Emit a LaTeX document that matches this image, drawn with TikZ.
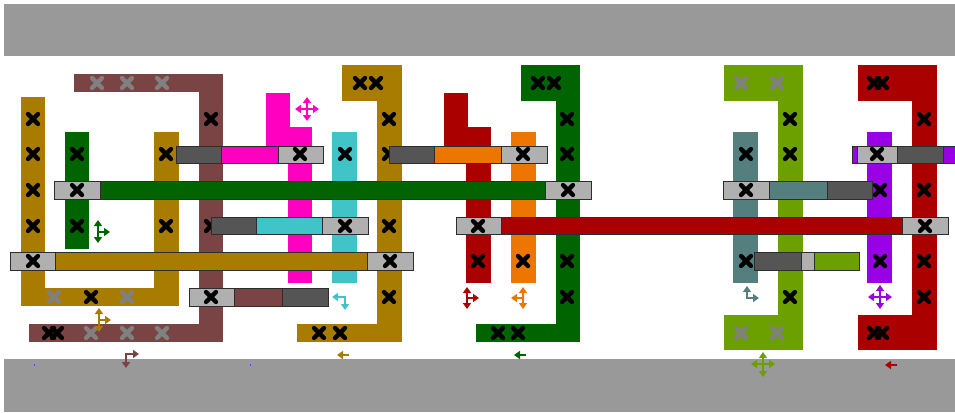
\documentclass[tikz,border=0pt]{standalone}
\usetikzlibrary{arrows.meta}
\definecolor{maroonc}{RGB}{123,68,68}
\definecolor{goldc}{RGB}{168,124,0}
\definecolor{dgreenc}{RGB}{0,100,0}
\definecolor{pinkc}{RGB}{255,0,192}
\definecolor{cyanc}{RGB}{64,196,200}
\definecolor{dredc}{RGB}{170,0,0}
\definecolor{orangec}{RGB}{236,118,0}
\definecolor{ygreenc}{RGB}{108,160,0}
\definecolor{tealc}{RGB}{85,127,127}
\definecolor{purplec}{RGB}{153,0,230}
\definecolor{lgrayc}{RGB}{176,176,176}
\definecolor{dgrayc}{RGB}{85,85,85}
\definecolor{bandc}{RGB}{153,153,153}
\definecolor{xgrayc}{RGB}{128,128,128}
\definecolor{edgec}{RGB}{45,45,45}
\tikzset{
  xmk/.style={line width=4.3pt, line cap=round},
  bar/.style={draw=edgec, line width=0.9pt},
  icon/.style={line width=2.4pt, arrows={-}, >={Triangle[width=8pt,length=6pt]}},
}
\newcommand{\XM}[2]{\draw[xmk,black] (#1-5,#2-5) -- (#1+5,#2+5) (#1-5,#2+5) -- (#1+5,#2-5);}
\newcommand{\XG}[2]{\draw[xmk,xgrayc] (#1-5,#2-5) -- (#1+5,#2+5) (#1-5,#2+5) -- (#1+5,#2-5);}
\begin{document}
\begin{tikzpicture}[x=1pt,y=-1pt]
\useasboundingbox (0,0) rectangle (955,412);
\fill[white] (0,0) rectangle (955,412);
% bands
\fill[bandc] (4,4) rectangle (955,56);
\fill[bandc] (4,359) rectangle (955,412);
\fill[blue!70] (33.5,364) rectangle (34.5,366);
\fill[blue!70] (249.5,364) rectangle (250.5,366);

% ---- shapes ----
% maroon C
\fill[maroonc] (74,74) rectangle (223,92);
\fill[maroonc] (199,74) rectangle (223,342);
\fill[maroonc] (29,324) rectangle (223,342);
\foreach \a/\b in {97/83,127/83,162/83,91/333,127/333,162/333} {\XG{\a}{\b}}
\foreach \a/\b in {211/119,211/226,49/333,57/333} {\XM{\a}{\b}}
% gold left C
\fill[goldc] (21,97) rectangle (45,306);
\fill[goldc] (21,288) rectangle (179,306);
\fill[goldc] (154,132) rectangle (179,306);
\foreach \a/\b in {54/297,127/297} {\XG{\a}{\b}}
\foreach \a/\b in {33/119,33/154,33/190,33/226,91/297,166/154,166/226} {\XM{\a}{\b}}
% dark green small
\fill[dgreenc] (65,132) rectangle (89,249);
\foreach \a/\b in {77/154,77/226} {\XM{\a}{\b}}
% pink
\fill[pinkc] (266,93) rectangle (290,146);
\fill[pinkc] (266,127) rectangle (312,146);
\fill[pinkc] (288,127) rectangle (312,283);
% cyan
\fill[cyanc] (332,132) rectangle (357,283);
\XM{345}{154}
% gold right
\fill[goldc] (342,65) rectangle (402,101);
\fill[goldc] (377,65) rectangle (402,342);
\fill[goldc] (297,324) rectangle (402,342);
\foreach \a/\b in {360/83,376/83,389/119,389/154,389/226,389/297,319/333,340/333} {\XM{\a}{\b}}
% dark red L
\fill[dredc] (444,93) rectangle (468,146);
\fill[dredc] (444,127) rectangle (491,146);
\fill[dredc] (466,127) rectangle (491,283);
\XM{478}{261}
% orange
\fill[orangec] (511,132) rectangle (536,283);
\XM{523}{261}
% dark green right
\fill[dgreenc] (521,65) rectangle (580,101);
\fill[dgreenc] (556,65) rectangle (580,342);
\fill[dgreenc] (476,324) rectangle (580,342);
\foreach \a/\b in {538/83,554/83,567/119,567/154,567/261,567/297,498/333,518/333} {\XM{\a}{\b}}
% yellow-green
\fill[ygreenc] (724,65) rectangle (803,101);
\fill[ygreenc] (778,65) rectangle (803,350);
\fill[ygreenc] (724,315) rectangle (803,350);
\foreach \a/\b in {741/83,777/83,741/333,777/333} {\XG{\a}{\b}}
\foreach \a/\b in {790/119,790/154,790/297} {\XM{\a}{\b}}
% teal
\fill[tealc] (733,132) rectangle (758,283);
\foreach \a/\b in {746/154,746/261} {\XM{\a}{\b}}
% purple
\fill[purplec] (867,132) rectangle (892,283);
\foreach \a/\b in {880/190,880/261} {\XM{\a}{\b}}
% dark red right
\fill[dredc] (858,65) rectangle (937,101);
\fill[dredc] (912,65) rectangle (937,350);
\fill[dredc] (858,315) rectangle (937,350);
\foreach \a/\b in {874/83,882/83,924/119,924/190,924/261,924/297,874/333,882/333} {\XM{\a}{\b}}

% ---- bars ----
% green
\draw[bar,fill=dgreenc] (100,181) rectangle (545,199);
\draw[bar,fill=lgrayc] (54,181) rectangle (100,199);
\draw[bar,fill=lgrayc] (545,181) rectangle (591,199);
% gold
\draw[bar,fill=goldc] (55,252) rectangle (367,270);
\draw[bar,fill=lgrayc] (10,252) rectangle (55,270);
\draw[bar,fill=lgrayc] (367,252) rectangle (413,270);
% pink
\draw[bar,fill=pinkc] (221,146) rectangle (278,163);
\draw[bar,fill=dgrayc] (176,146) rectangle (221,163);
\draw[bar,fill=lgrayc] (278,146) rectangle (323,163);
% cyan
\draw[bar,fill=cyanc] (256,217) rectangle (322,234);
\draw[bar,fill=dgrayc] (211,217) rectangle (256,234);
\draw[bar,fill=lgrayc] (322,217) rectangle (368,234);
% maroon
\draw[bar,fill=maroonc] (234,288) rectangle (282,306);
\draw[bar,fill=lgrayc] (189,288) rectangle (234,306);
\draw[bar,fill=dgrayc] (282,288) rectangle (328,306);
% orange
\draw[bar,fill=orangec] (434,146) rectangle (501,163);
\draw[bar,fill=dgrayc] (389,146) rectangle (434,163);
\draw[bar,fill=lgrayc] (501,146) rectangle (547,163);
% red
\draw[bar,fill=dredc] (501,217) rectangle (902,234);
\draw[bar,fill=lgrayc] (456,217) rectangle (501,234);
\draw[bar,fill=lgrayc] (902,217) rectangle (948,234);
% teal
\draw[bar,fill=tealc] (769,181) rectangle (827,199);
\draw[bar,fill=lgrayc] (723,181) rectangle (769,199);
\draw[bar,fill=dgrayc] (827,181) rectangle (872,199);
% yellow-green
\draw[bar,fill=dgrayc] (754,252) rectangle (801,270);
\draw[bar,fill=lgrayc] (801,252) rectangle (814,270);
\draw[bar,fill=ygreenc] (814,252) rectangle (859,270);
% purple
\draw[bar,fill=purplec] (852,146) rectangle (857,163);
\draw[bar,fill=lgrayc] (857,146) rectangle (897,163);
\draw[bar,fill=dgrayc] (897,146) rectangle (943,163);
\draw[bar,fill=purplec] (943,146) rectangle (960,163);
% handle marks
\foreach \a/\b in {77/190,568/190,33/261,390/261,300/154,345/226,211/297,523/154,478/226,925/226,746/190,877/154} {\XM{\a}{\b}}

% ---- icons ----
\draw[icon,dgreenc,<->] (98,220) -- (98,243);
\draw[icon,dgreenc,->] (98,232) -- (110,232);
\draw[icon,goldc,<->] (99,308) -- (99,332);
\draw[icon,goldc,->] (99,320) -- (111,320);
\draw[icon,pinkc,<->] (295,109) -- (319,109);
\draw[icon,pinkc,<->] (307,97) -- (307,121);
\draw[icon,cyanc,<->] (332,297) -- (345,297) -- (345,310);
\draw[icon,maroonc,<->] (126,368) -- (126,354) -- (139,354);
\draw[icon,dredc,<->] (467,287) -- (467,309);
\draw[icon,dredc,->] (467,298) -- (479,298);
\draw[icon,orangec,<->] (523,287) -- (523,309);
\draw[icon,orangec,->] (523,298) -- (511,298);
\draw[icon,tealc,<->] (747,286) -- (747,298) -- (759,298);
\draw[icon,purplec,<->] (868,297) -- (892,297);
\draw[icon,purplec,<->] (880,285) -- (880,309);
\draw[icon,ygreenc,<->] (751,364) -- (775,364);
\draw[icon,ygreenc,<->] (763,352) -- (763,377);
\draw[icon,goldc,->] (349,355) -- (337,355);
\draw[icon,dgreenc,->] (526,355) -- (514,355);
\draw[icon,dredc,->] (897,365) -- (885,365);
\end{tikzpicture}
\end{document}
